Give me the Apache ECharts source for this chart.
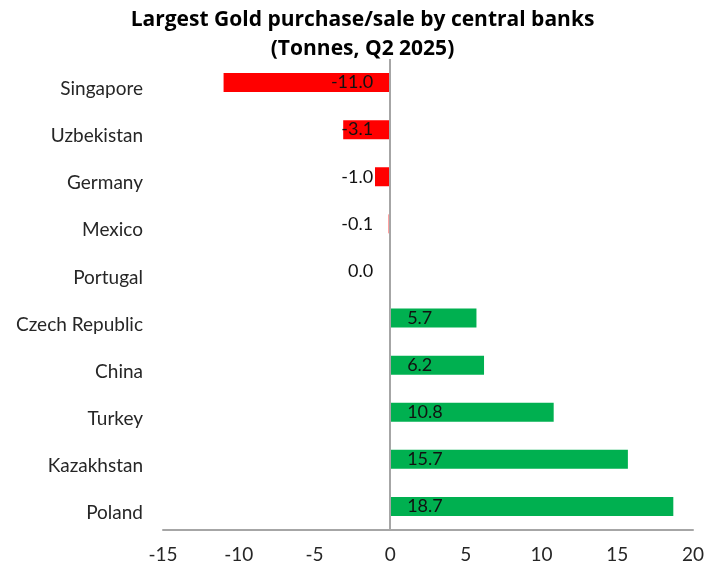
<!DOCTYPE html>
<html>
<head>
<meta charset="utf-8">
<script src="https://cdn.jsdelivr.net/npm/echarts@6/dist/echarts.min.js"></script>
<style>
  html, body { margin: 0; padding: 0; background: #fff; }
  #chart { width: 725px; height: 573px; }
</style>
</head>
<body>
<div id="chart"></div>
<script>
// Central bank gold net purchases / sales, Q2 2025 (tonnes)
const countries = ['Singapore', 'Uzbekistan', 'Germany', 'Mexico', 'Portugal',
  'Czech Republic', 'China', 'Turkey', 'Kazakhstan', 'Poland'];
const tonnes = [-11.0, -3.1, -1.0, -0.1, 0.0, 5.7, 6.2, 10.8, 15.7, 18.7];
const xTicks = [-15, -10, -5, 0, 5, 10, 15, 20];

const FONT = 'Lato';
const RED = '#FF0000';
const GREEN = '#00B050';
const AXIS_GREY = '#A6A6A6';

const barData = tonnes.map(v => ({
  value: v,
  itemStyle: { color: v > 0 ? GREEN : RED },
  label: {
    position: v > 0 ? 'insideLeft' : 'insideRight',
    distance: 17
  }
}));

const chart = echarts.init(document.getElementById('chart'));
chart.setOption({
  animation: false,
  backgroundColor: '#ffffff',
  title: {
    text: 'Largest Gold purchase/sale by central banks\n(Tonnes, Q2 2025)',
    left: 'center',
    top: 1,
    textStyle: {
      fontFamily: 'Open Sans',
      fontWeight: 'bold',
      fontSize: 21,
      lineHeight: 29,
      color: '#000'
    }
  },
  grid: { left: 163, right: 32, top: 59, bottom: 43, containLabel: false },
  xAxis: {
    type: 'value',
    min: xTicks[0],
    max: xTicks[xTicks.length - 1],
    interval: 5,
    axisLine: { show: true, onZero: false, lineStyle: { color: AXIS_GREY, width: 2 } },
    axisTick: { show: false },
    splitLine: { show: false },
    axisLabel: {
      margin: 15,
      fontFamily: FONT,
      fontSize: 19,
      color: '#262626'
    }
  },
  yAxis: {
    type: 'category',
    data: countries,
    inverse: true,
    axisLine: { show: false },
    axisTick: { show: false },
    axisLabel: {
      margin: 20,
      fontFamily: FONT,
      fontSize: 19,
      color: '#262626',
      formatter: name => '{n|' + name + '}',
      rich: {
        n: { fontFamily: FONT, fontSize: 19, color: '#262626', padding: [13, 0, 0, 0] }
      }
    }
  },
  series: [{
    type: 'bar',
    data: barData,
    barWidth: 19,
    label: {
      show: true,
      fontFamily: FONT,
      fontSize: 18,
      color: '#111',
      formatter: p => p.value.toFixed(1)
    },
    markLine: {
      silent: true,
      symbol: 'none',
      label: { show: false },
      lineStyle: { color: AXIS_GREY, width: 2, type: 'solid' },
      data: [{ xAxis: 0 }]
    }
  }]
});
</script>
</body>
</html>
